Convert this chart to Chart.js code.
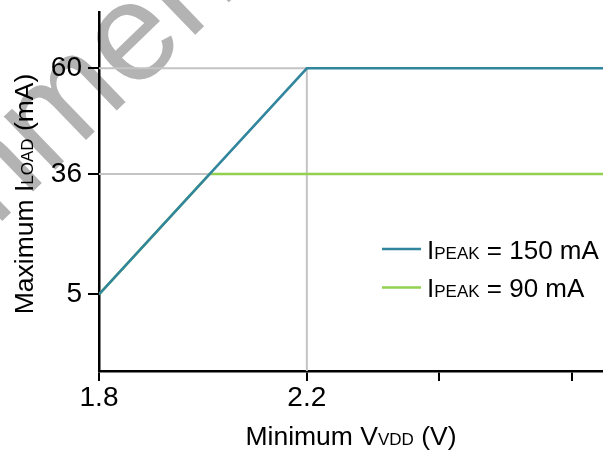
<!DOCTYPE html>
<html>
<head>
<meta charset="utf-8">
<script src="https://cdn.jsdelivr.net/npm/chart.js@4"></script>
<style>
    body { margin: 0; background: #fff; }
    .chart { position: relative; width: 603px; height: 453px; }
</style>
</head>
<body>
<div class="chart"><canvas id="chartCanvas"></canvas></div>
<script>
// chart values
const x150 = [1.8, 2.2, 2.77]
const y150 = [5, 60, 60]
const x90 = [1.8, 2.013, 2.77]
const y90 = [5, 36, 36]
const xTicks = [1.8, 2.2, 2.455, 2.71]
const xTickLabels = ['1.8', '2.2', '', '']
const yTicks = [5, 36, 60]
const yTickLabels = ['5', '36', '60']
// grey drop lines from the axes to the corners
const guideX = [1.8, 2.2, 2.2]
const guideY = [60, 60, -15]
const guide2X = [1.8, 2.013]
const guide2Y = [36, 36]
const seriesNames = [
    [['I', 26], ['PEAK', 17], [' = 150 mA', 26]],
    [['I', 26], ['PEAK', 17], [' = 90 mA', 26]]
]
const seriesColors = ['#31859c', '#92d050']
const xTitle = [['Minimum V', 26.5], ['VDD', 17], [' (V)', 26.5]]
const yTitle = [['Maximum I', 26.5], ['LOAD', 17], [' (mA)', 26.5]]
const watermark = 'Recommended'

const font = "'Liberation Sans', Arial, sans-serif"

const toPoints = (xs, ys) => xs.map((x, i) => ({x: x, y: ys[i]}))

// the y axis of the original is not evenly spaced, so map it piece by piece
class KnotScale extends Chart.LinearScale {
    toDecimal(v) {
        const k = this.options.knots
        let i = 0
        while (i < k.values.length - 2 && v > k.values[i + 1]) i ++
        const t = (v - k.values[i]) / (k.values[i + 1] - k.values[i])
        return k.decimals[i] + t * (k.decimals[i + 1] - k.decimals[i])
    }
    getPixelForValue(value) {
        if (value === null || value === undefined) return NaN
        return this.getPixelForDecimal(this.toDecimal(value))
    }
    getValueForPixel(pixel) {
        const k = this.options.knots
        const d = this.getDecimalForPixel(pixel)
        let i = 0
        while (i < k.decimals.length - 2 && d > k.decimals[i + 1]) i ++
        const t = (d - k.decimals[i]) / (k.decimals[i + 1] - k.decimals[i])
        return k.values[i] + t * (k.values[i + 1] - k.values[i])
    }
}
KnotScale.id = 'knot'
KnotScale.defaults = Chart.LinearScale.defaults
Chart.register(KnotScale)

const richWidth = (ctx, parts) => {
    let w = 0
    parts.forEach(p => {
        ctx.font = `${p[1]}px ${font}`
        w += ctx.measureText(p[0]).width
    })
    return w
}
const drawRich = (ctx, parts, x, y) => {
    ctx.textAlign = 'left'
    ctx.textBaseline = 'alphabetic'
    parts.forEach(p => {
        ctx.font = `${p[1]}px ${font}`
        ctx.fillText(p[0], x, y)
        x += ctx.measureText(p[0]).width
    })
}

const extras = {
    id: 'extras',
    beforeDraw: (chart) => {
        const ctx = chart.ctx
        ctx.save()
        ctx.translate(-270.7, 484.6)
        ctx.rotate(-44 * Math.PI / 180)
        ctx.fillStyle = '#b3b3b3'
        ctx.font = `140px ${font}`
        ctx.textBaseline = 'alphabetic'
        ctx.fillText(watermark, 0, 0)
        ctx.restore()
    },
    afterDraw: (chart) => {
        const ctx = chart.ctx
        const area = chart.chartArea
        ctx.save()
        ctx.fillStyle = '#000'
        // x title
        drawRich(ctx, xTitle, (area.left + area.right) / 2 - richWidth(ctx, xTitle) / 2, 445)
        // y title
        ctx.save()
        ctx.translate(33, 194)
        ctx.rotate(-Math.PI / 2)
        drawRich(ctx, yTitle, -richWidth(ctx, yTitle) / 2, 0)
        ctx.restore()
        // legend
        seriesNames.forEach((name, i) => {
            const y = 249 + i * 38.5
            ctx.strokeStyle = seriesColors[i]
            ctx.lineWidth = 2.5
            ctx.beginPath()
            ctx.moveTo(382, y)
            ctx.lineTo(421, y)
            ctx.stroke()
            ctx.fillStyle = '#000'
            drawRich(ctx, name, 427, y + 9.5)
        })
        ctx.restore()
    }
}

const chartData = {
    datasets: [
        {
            label: 'IPEAK = 150 mA',
            data: toPoints(x150, y150),
            borderColor: seriesColors[0],
            borderWidth: 2.5
        },
        {
            label: 'IPEAK = 90 mA',
            data: toPoints(x90, y90),
            borderColor: seriesColors[1],
            borderWidth: 2.5
        },
        {
            label: 'guide',
            data: toPoints(guideX, guideY),
            borderColor: '#c4c4c4',
            borderWidth: 2
        },
        {
            label: 'guide2',
            data: toPoints(guide2X, guide2Y),
            borderColor: '#c4c4c4',
            borderWidth: 2
        }
    ]
}

const config = {
    type: 'line',
    data: chartData,
    options: {
        responsive: true,
        maintainAspectRatio: false,
        animation: false,
        layout: {padding: {top: 12, right: 0, left: 0, bottom: 0}},
        elements: {point: {radius: 0}, line: {tension: 0}},
        plugins: {legend: {display: false}, tooltip: {enabled: false}},
        scales: {
            x: {
                type: 'linear',
                min: 1.8,
                max: 2.77,
                afterBuildTicks: (scale) => {
                    scale.ticks = xTicks.map(v => ({value: v}))
                },
                afterFit: (scale) => {
                    scale.height = 82
                    scale.paddingRight = 0
                },
                border: {display: true, color: '#000', width: 2.5},
                grid: {drawOnChartArea: false, drawTicks: true, tickLength: 10, color: '#000', lineWidth: 2},
                ticks: {
                    autoSkip: false,
                    maxRotation: 0,
                    padding: 0,
                    color: '#000',
                    font: {family: font, size: 28},
                    callback: (v, i) => xTickLabels[i]
                }
            },
            y: {
                type: 'knot',
                min: -15,
                max: 73,
                knots: {
                    values: [-15, 5, 36, 60, 73],
                    decimals: [0, 0.2137, 0.5487, 0.8432, 1]
                },
                afterBuildTicks: (scale) => {
                    scale.ticks = yTicks.map(v => ({value: v}))
                },
                afterFit: (scale) => {
                    scale.width = 99
                    scale.paddingTop = 0
                    scale.paddingBottom = 0
                },
                border: {display: true, color: '#000', width: 2.5},
                grid: {drawOnChartArea: false, drawTicks: true, tickLength: 11, color: '#000', lineWidth: 2},
                ticks: {
                    autoSkip: false,
                    padding: 6,
                    color: '#000',
                    font: {family: font, size: 28},
                    callback: (v, i) => yTickLabels[i]
                }
            }
        }
    },
    plugins: [extras]
}

const myChart = new Chart(
    document.getElementById('chartCanvas'),
    config
)
</script>
</body>
</html>
